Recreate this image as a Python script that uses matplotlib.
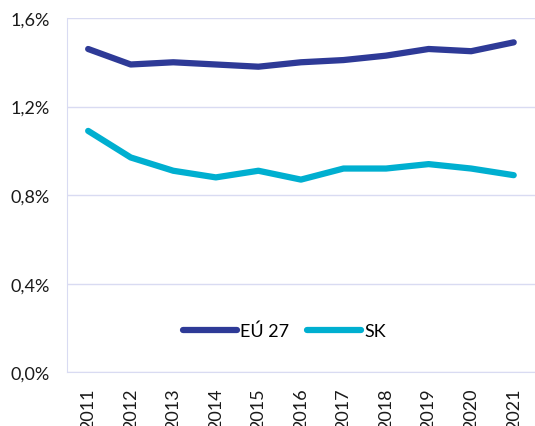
import matplotlib
matplotlib.use("Agg")
from matplotlib import pyplot as plt
from matplotlib.ticker import FuncFormatter

# data (share in %)
years = ['2011', '2012', '2013', '2014', '2015', '2016', '2017', '2018', '2019', '2020', '2021']
eu27 = [1.46, 1.39, 1.40, 1.39, 1.38, 1.40, 1.41, 1.43, 1.46, 1.45, 1.49]
sk = [1.09, 0.97, 0.91, 0.88, 0.91, 0.87, 0.92, 0.92, 0.94, 0.92, 0.89]

plt.rcParams['font.family'] = ['Lato', 'DejaVu Sans']

fig = plt.figure(figsize=(5.35, 4.27), dpi=100)
ax = fig.add_axes([0.125, 0.126, 0.875, 0.8295])

x = range(len(years))
ax.plot(x, eu27, color='#2E3A97', linewidth=4.5, solid_capstyle='round', label='EÚ 27')
ax.plot(x, sk, color='#00AFD0', linewidth=4.5, solid_capstyle='round', label='SK')

ax.set_xlim(-0.5, len(years) - 0.5)
ax.set_ylim(0, 1.6)
ax.set_yticks([0, 0.4, 0.8, 1.2, 1.6])
ax.yaxis.set_major_formatter(FuncFormatter(lambda v, p: f'{v:.1f}%'.replace('.', ',')))
ax.set_xticks(list(x))
ax.set_xticklabels(years, rotation=90)
ax.tick_params(axis='both', length=0, labelsize=13, colors='#1a1a1a')
ax.tick_params(axis='y', pad=12)
ax.tick_params(axis='x', pad=11)

ax.grid(axis='y', color='#D9DBF2', linewidth=1)
ax.set_axisbelow(True)
for s in ['top', 'right']:
    ax.spines[s].set_visible(False)
ax.spines['left'].set_color('#D9DBF2')
ax.spines['bottom'].set_color('#D9DBF2')

ax.legend(loc='center', bbox_to_anchor=(0.465, 0.117), ncol=2, frameon=False,
          fontsize=13, handlelength=3.0, handletextpad=0.15, columnspacing=1.0)

fig.savefig('out.png', dpi=100)
